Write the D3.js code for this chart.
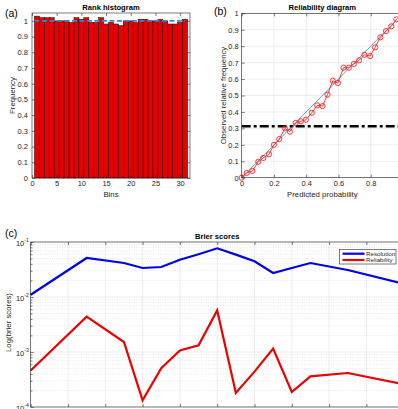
<!DOCTYPE html>
<html><head><meta charset="utf-8">
<script src="https://cdn.jsdelivr.net/npm/d3@7"></script>
<style>
body{margin:0;background:#fff}
svg{display:block}
text{font-family:"Liberation Sans",Arial,Helvetica,sans-serif}
</style>
</head><body>
<svg id="chart" width="398" height="409"></svg>
<script>
// ---------- data ----------
const rankBins = [1,2,3,4,5,6,7,8,9,10,11,12,13,14,15,16,17,18,19,20,21,22,23,24,25,26,27,28,29,30,31];
const rankFreq = [1.03,1.02,1.02,1.02,1.00,1.00,1.00,0.99,1.02,1.01,1.02,0.99,0.99,1.02,0.98,0.99,0.98,0.97,1.00,1.00,0.99,1.01,1.01,1.00,1.00,1.01,1.00,0.98,0.98,0.99,1.01];
const rankXTicks = [0,5,10,15,20,25,30];
const rankYTicks = [0,0.1,0.2,0.3,0.4,0.5,0.6,0.7,0.8,0.9,1];
const uniformLevel = 1;

const relPred = [0,0.031,0.066,0.103,0.134,0.169,0.2,0.233,0.268,0.299,0.334,0.367,0.398,0.435,0.468,0.501,0.532,0.565,0.596,0.631,0.664,0.695,0.728,0.761,0.796,0.827,0.86,0.895,0.928,0.959];
const relObs  = [0,0.029,0.041,0.097,0.12,0.142,0.2,0.235,0.30,0.28,0.333,0.343,0.353,0.395,0.44,0.436,0.505,0.59,0.576,0.669,0.669,0.692,0.714,0.748,0.74,0.793,0.854,0.892,0.921,0.963];
const relXTicks = [0,0.2,0.4,0.6,0.8,1];
const relXLabelTicks = [0,0.2,0.4,0.6,0.8];
const relYTicks = [0,0.1,0.2,0.3,0.4,0.5,0.6,0.7,0.8,0.9,1];
const climatology = 0.313;

const brierX = [0,1.5,2.5,3,3.5,4,4.5,5,5.5,6,6.5,7,7.5,8.5,10];
const resolution  = [0.0110,0.0512,0.0415,0.0337,0.0351,0.0477,0.060,0.0768,0.059,0.0446,0.0273,0.0337,0.0415,0.031,0.0174];
const reliability = [4.6e-4,4.4e-3,1.52e-3,1.32e-4,5.1e-4,1.07e-3,1.32e-3,5.7e-3,1.8e-4,4.4e-4,1.15e-3,1.87e-4,3.6e-4,4.15e-4,2.6e-4];
const brierXTicks = [0,1,2,3,4,5,6,7,8,9,10];
const brierDecades = [1e-4,1e-3,1e-2,1e-1];
const brierDecadeExp = ["-4","-3","-2","-1"];
const brierMinor = [2e-4,3e-4,4e-4,5e-4,6e-4,7e-4,8e-4,9e-4,2e-3,3e-3,4e-3,5e-3,6e-3,7e-3,8e-3,9e-3,2e-2,3e-2,4e-2,5e-2,6e-2,7e-2,8e-2,9e-2];
const seriesNames = ["Resolution","Reliability"];

// ---------- styles ----------
const AX = "#262626", GRID = "#e1e1e1", TICKFS = 7.5, LABFS = 7.8, TITFS = 7.6;
const svg = d3.select("#chart");

function frame(g, x, y){
  const [x0,x1] = x.range(), [y0,y1] = y.range();
  g.append("rect").attr("x",x0).attr("y",y1).attr("width",x1-x0).attr("height",y0-y1)
    .attr("fill","none").attr("stroke",AX).attr("stroke-width",0.6);
}
function tickAxes(g, x, y, xt, xlt, yt, xfmt, yfmt, yPad){
  const [x0,x1] = x.range(), [y0,y1] = y.range();
  const bx = g.append("g").attr("transform",`translate(0,${y0})`)
    .call(d3.axisBottom(x).tickValues(xt).tickSize(-3).tickFormat(""));
  const bl = g.append("g").attr("transform",`translate(0,${y0})`)
    .call(d3.axisBottom(x).tickValues(xlt).tickSize(0).tickPadding(3).tickFormat(xfmt));
  const tx = g.append("g").attr("transform",`translate(0,${y1})`)
    .call(d3.axisTop(x).tickValues(xt).tickSize(-3).tickFormat(""));
  const ly = g.append("g").attr("transform",`translate(${x0},0)`)
    .call(d3.axisLeft(y).tickValues(yt).tickSize(-3).tickPadding(yPad).tickFormat(yfmt));
  const ry = g.append("g").attr("transform",`translate(${x1},0)`)
    .call(d3.axisRight(y).tickValues(yt).tickSize(-3).tickFormat(""));
  [bx,bl,tx,ly,ry].forEach(a=>{
    a.select(".domain").remove();
    a.selectAll("line").attr("stroke",AX).attr("stroke-width",0.6);
    a.selectAll("text").attr("fill",AX).attr("font-size",TICKFS).attr("font-family","Liberation Sans, Arial, sans-serif");
  });
}

// ================= (a) Rank histogram =================
{
  const g = svg.append("g");
  const x = d3.scaleLinear([0,32],[32,190]);
  const y = d3.scaleLinear([0,1.05],[178,13]);
  g.selectAll("rect.bar").data(rankBins).join("rect").attr("class","bar")
    .attr("x",d=>x(d-0.5)).attr("width",d=>x(d+0.5)-x(d-0.5))
    .attr("y",(d,i)=>y(rankFreq[i])).attr("height",(d,i)=>y(0)-y(rankFreq[i]))
    .attr("fill","#e60000").attr("stroke","#1a0000").attr("stroke-width",0.5);
  g.append("line").attr("x1",x(0.5)).attr("x2",x(31)).attr("y1",y(uniformLevel)).attr("y2",y(uniformLevel))
    .attr("stroke","#3a86c8").attr("stroke-width",1.6).attr("stroke-dasharray","5,2.5");
  tickAxes(g,x,y,rankXTicks,rankXTicks,rankYTicks,d3.format("d"),d=>d3.format("")(d),4);
  frame(g,x,y);
  g.append("text").attr("x",(x(0)+x(32))/2).attr("y",9.5).attr("text-anchor","middle")
    .attr("font-size",TITFS).attr("font-weight","bold").attr("fill","#000").text("Rank histogram");
  g.append("text").attr("x",(x(0)+x(32))/2).attr("y",196.5).attr("text-anchor","middle")
    .attr("font-size",LABFS).attr("fill",AX).text("Bins");
  g.append("text").attr("transform",`translate(14.5,${(y(0)+y(1.05))/2}) rotate(-90)`).attr("text-anchor","middle")
    .attr("font-size",LABFS).attr("fill",AX).text("Frequency");
  g.append("text").attr("x",5).attr("y",16.5).attr("font-size",10.5).attr("fill","#000").text("(a)");
}

// ================= (b) Reliability diagram =================
{
  const g = svg.append("g");
  const x = d3.scaleLinear([0,1],[241.7,403]);
  const y = d3.scaleLinear([0,1],[177.7,13.3]);
  g.selectAll("line.gx").data(relXTicks).join("line").attr("class","gx")
    .attr("x1",d=>x(d)).attr("x2",d=>x(d)).attr("y1",y(0)).attr("y2",y(1)).attr("stroke",GRID).attr("stroke-width",0.6);
  g.selectAll("line.gy").data(relYTicks).join("line").attr("class","gy")
    .attr("x1",x(0)).attr("x2",x(1)).attr("y1",d=>y(d)).attr("y2",d=>y(d)).attr("stroke",GRID).attr("stroke-width",0.6);
  g.append("line").attr("x1",x(0)).attr("y1",y(0)).attr("x2",x(1)).attr("y2",y(1))
    .attr("stroke","#3f86c4").attr("stroke-width",0.8);
  g.append("line").attr("x1",x(0)).attr("x2",x(1)).attr("y1",y(climatology)).attr("y2",y(climatology))
    .attr("stroke","#000").attr("stroke-width",2.4).attr("stroke-dasharray","9,3,3,3");
  const pts = relPred.map((p,i)=>[p,relObs[i]]);
  g.append("path").datum(pts).attr("d",d3.line().x(d=>x(d[0])).y(d=>y(d[1])))
    .attr("fill","none").attr("stroke","#f22").attr("stroke-width",0.9);
  g.selectAll("circle").data(pts).join("circle").attr("cx",d=>x(d[0])).attr("cy",d=>y(d[1])).attr("r",2.6)
    .attr("fill","none").attr("stroke","#f22").attr("stroke-width",0.9);
  tickAxes(g,x,y,relXTicks,relXLabelTicks,relYTicks,d=>d3.format("")(d),d=>d3.format("")(d),3);
  frame(g,x,y);
  g.append("text").attr("x",(x(0)+x(1))/2).attr("y",9.5).attr("text-anchor","middle")
    .attr("font-size",TITFS).attr("font-weight","bold").attr("fill","#000").text("Reliability diagram");
  g.append("text").attr("x",(x(0)+x(1))/2).attr("y",196.5).attr("text-anchor","middle")
    .attr("font-size",LABFS).attr("fill",AX).text("Predicted probability");
  g.append("text").attr("transform",`translate(226,${(y(0)+y(1))/2}) rotate(-90)`).attr("text-anchor","middle")
    .attr("font-size",LABFS).attr("fill",AX).text("Observed relative frequency");
  g.append("text").attr("x",214).attr("y",14.5).attr("font-size",10.5).attr("fill","#000").text("(b)");
}

// ================= (c) Brier scores =================
{
  const g = svg.append("g");
  const x = d3.scaleLinear([0,10],[30.7,403.7]);
  const y = d3.scaleLog([1e-4,1e-1],[407,242]);
  g.selectAll("line.gmin").data(brierMinor).join("line").attr("class","gmin")
    .attr("x1",x(0)).attr("x2",x(10)).attr("y1",d=>y(d)).attr("y2",d=>y(d))
    .attr("stroke","#cfcfcf").attr("stroke-width",0.6).attr("stroke-dasharray","0.8,1.6");
  g.selectAll("line.gx").data(brierXTicks).join("line").attr("class","gx")
    .attr("x1",d=>x(d)).attr("x2",d=>x(d)).attr("y1",y(1e-4)).attr("y2",y(1e-1)).attr("stroke",GRID).attr("stroke-width",0.6);
  g.selectAll("line.gy").data(brierDecades).join("line").attr("class","gy")
    .attr("x1",x(0)).attr("x2",x(10)).attr("y1",d=>y(d)).attr("y2",d=>y(d)).attr("stroke",GRID).attr("stroke-width",0.6);
  const bx = g.append("g").attr("transform",`translate(0,${y(1e-1)})`)
    .call(d3.axisTop(x).tickValues(brierXTicks).tickSize(-3).tickFormat(""));
  const bb = g.append("g").attr("transform",`translate(0,${y(1e-4)})`)
    .call(d3.axisBottom(x).tickValues(brierXTicks).tickSize(-3).tickFormat(""));
  const ly = g.append("g").attr("transform",`translate(${x(0)},0)`)
    .call(d3.axisLeft(y).tickValues(brierDecades).tickSize(-3).tickFormat(""));
  const lm = g.append("g").attr("transform",`translate(${x(0)},0)`)
    .call(d3.axisLeft(y).tickValues(brierMinor).tickSize(-1.8).tickFormat(""));
  [bx,bb,ly,lm].forEach(a=>{a.select(".domain").remove();a.selectAll("line").attr("stroke",AX).attr("stroke-width",0.6);});
  brierDecades.forEach((d,i)=>{
    const t = g.append("text").attr("x",x(0)-1.8).attr("y",y(d)+3.5).attr("text-anchor","end")
      .attr("font-size",TICKFS).attr("fill",AX);
    t.append("tspan").text("10");
    t.append("tspan").attr("dy",-3.5).attr("font-size",5.2).text(brierDecadeExp[i]);
  });
  const line = d3.line().x((d,i)=>x(brierX[i])).y(d=>y(d));
  g.append("path").datum(resolution).attr("d",line).attr("fill","none").attr("stroke","#0000f0").attr("stroke-width",2.2);
  g.append("path").datum(reliability).attr("d",line).attr("fill","none").attr("stroke","#ee0000").attr("stroke-width",2.2);
  frame(g,x,y);
  const lg = g.append("g");
  lg.append("rect").attr("x",339.5).attr("y",249.5).attr("width",56.5).attr("height",14.5)
    .attr("fill","#fff").attr("stroke",AX).attr("stroke-width",0.6);
  const colors = ["#0000f0","#ee0000"];
  seriesNames.forEach((n,i)=>{
    const yy = 253.7 + i*6.3;
    lg.append("line").attr("x1",342.5).attr("x2",364.5).attr("y1",yy).attr("y2",yy).attr("stroke",colors[i]).attr("stroke-width",2.2);
    lg.append("text").attr("x",366).attr("y",yy+2.2).attr("font-size",6.2).attr("fill",AX).text(n);
  });
  g.append("text").attr("x",(x(0)+x(10))/2).attr("y",238.5).attr("text-anchor","middle")
    .attr("font-size",TITFS).attr("font-weight","bold").attr("fill","#000").text("Brier scores");
  g.append("text").attr("transform",`translate(10.5,322.5) rotate(-90)`).attr("text-anchor","middle")
    .attr("font-size",LABFS).attr("fill",AX).text("Log(brier scores)");
  g.append("text").attr("x",5).attr("y",236.5).attr("font-size",10.5).attr("fill","#000").text("(c)");
}
</script>
</body></html>
